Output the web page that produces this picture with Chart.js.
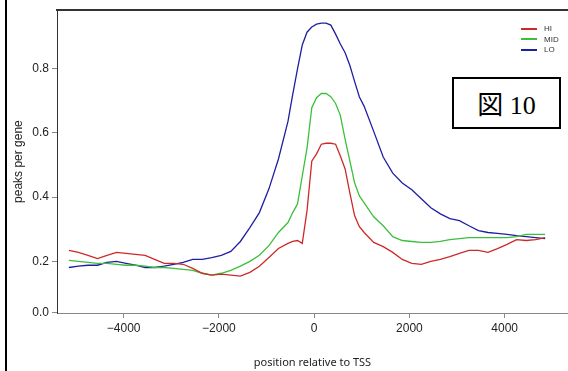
<!DOCTYPE html>
<html>
<head>
<meta charset="utf-8">
<script src="https://cdn.jsdelivr.net/npm/chart.js@4/dist/chart.umd.min.js"></script>
<style>
  body { margin: 0; background: #fff; }
  #wrap { position: relative; width: 568px; height: 371px; overflow: hidden; }
  #chart { position: absolute; left: 0; top: 0; }
  #leftbar { position: absolute; left: 5px; top: 0; width: 2px; height: 371px; background: #000; }
  #legend { position: absolute; left: 521px; top: 24px; font: 8px "Liberation Sans", Arial, sans-serif; color: #333; }
  #legend div { height: 10.5px; line-height: 10.5px; white-space: nowrap; }
  #legend span.ln { display: inline-block; width: 16px; height: 0; border-top: 2px solid; vertical-align: middle; margin-right: 7px; }
  #fig { position: absolute; left: 452px; top: 77px; width: 105px; height: 48px; border: 2px solid #000; background: #fff;
         text-align: center; line-height: 48px; font-size: 26px; font-family: "Liberation Serif", "Noto Sans CJK JP", serif; color: #000; }
</style>
</head>
<body>
<div id="wrap">
  <canvas id="chart" width="568" height="371"></canvas>
  <div id="leftbar"></div>
  <div id="legend"></div>
  <div id="fig"><span style="font-family:'Noto Sans CJK JP'">図</span> 10</div>
</div>
<script>
// positions relative to TSS (bp), finer around the TSS
const positions = [-5150, -4950, -4750, -4550, -4350, -4150, -3950, -3750, -3550, -3350,
  -3150, -2950, -2750, -2550, -2350, -2150, -1950, -1750, -1550, -1350,
  -1150, -950, -750, -550, -450, -350, -250, -150, -50, 50,
  150, 250, 350, 450, 550, 650, 750, 850, 950, 1050,
  1250, 1450, 1650, 1850, 2050, 2250, 2450, 2650,
  2850, 3050, 3250, 3450, 3650, 3850, 4050, 4250, 4450, 4650, 4850];

const hiPeaks = [0.234, 0.228, 0.219, 0.209, 0.219, 0.228, 0.225, 0.222, 0.219, 0.206,
  0.194, 0.194, 0.191, 0.178, 0.163, 0.157, 0.160, 0.157, 0.154, 0.166,
  0.185, 0.212, 0.240, 0.256, 0.262, 0.265, 0.256, 0.358, 0.512, 0.535,
  0.565, 0.568, 0.568, 0.565, 0.528, 0.488, 0.413, 0.342, 0.308, 0.290,
  0.259, 0.246, 0.228, 0.206, 0.194, 0.191, 0.200, 0.206,
  0.215, 0.225, 0.234, 0.234, 0.228, 0.240, 0.253, 0.268, 0.265, 0.268, 0.274];

const midPeaks = [0.203, 0.200, 0.197, 0.194, 0.194, 0.191, 0.188, 0.188, 0.185, 0.181,
  0.181, 0.178, 0.175, 0.172, 0.163, 0.157, 0.163, 0.172, 0.185, 0.200,
  0.219, 0.249, 0.290, 0.321, 0.352, 0.379, 0.466, 0.553, 0.679, 0.710,
  0.723, 0.723, 0.713, 0.692, 0.655, 0.580, 0.512, 0.444, 0.404, 0.382,
  0.339, 0.311, 0.277, 0.265, 0.262, 0.259, 0.259, 0.262,
  0.268, 0.271, 0.274, 0.274, 0.274, 0.274, 0.274, 0.277, 0.284, 0.284, 0.284];

const loPeaks = [0.181, 0.185, 0.188, 0.188, 0.197, 0.200, 0.194, 0.188, 0.181, 0.181,
  0.185, 0.191, 0.197, 0.206, 0.206, 0.212, 0.219, 0.231, 0.262, 0.305,
  0.352, 0.426, 0.519, 0.636, 0.720, 0.800, 0.874, 0.914, 0.930, 0.939,
  0.942, 0.942, 0.936, 0.908, 0.877, 0.850, 0.810, 0.760, 0.712, 0.683,
  0.605, 0.525, 0.475, 0.444, 0.423, 0.395, 0.367, 0.348,
  0.333, 0.327, 0.311, 0.296, 0.290, 0.287, 0.284, 0.280, 0.277, 0.274, 0.271];

const seriesNames = ["HI", "MID", "LO"];
const seriesColors = ["#cc2a2a", "#3cbf3c", "#1f1fa3"];

const xTicks = [-4000, -2000, 0, 2000, 4000];
const yTicks = [0.04, 0.2, 0.4, 0.6, 0.8];
const xMin = -5400, xMax = 5330;
const yMin = 0.0392, yMax = 0.9825;

function toPoints(vals){
    let pts = [];
    for (let i = 0; i < positions.length; i++) {
        pts.push({x: positions[i], y: vals[i]});
    }
    return pts;
}

const allSeries = [hiPeaks, midPeaks, loPeaks];
let datasets = [];
for (let i = 0; i < allSeries.length; i++) {
    datasets.push({
        label: seriesNames[i],
        data: toPoints(allSeries[i]),
        borderColor: seriesColors[i],
        borderWidth: 1.3,
        pointRadius: 0,
        fill: false,
        tension: 0
    });
}

// little legend in the top right corner
let legendHtml = "";
for (let i = 0; i < seriesNames.length; i++) {
    legendHtml += '<div><span class="ln" style="border-color:' + seriesColors[i] + '"></span>' + seriesNames[i] + '</div>';
}
document.getElementById("legend").innerHTML = legendHtml;

new Chart(document.getElementById("chart"), {
    type: "line",
    data: { datasets: datasets },
    options: {
        responsive: false,
        animation: false,
        devicePixelRatio: 1,
        layout: { padding: { left: 0, right: 0, top: 8, bottom: 0 } },
        plugins: { legend: { display: false }, tooltip: { enabled: false } },
        scales: {
            x: {
                type: "linear",
                min: xMin, max: xMax,
                afterFit: function(s){ s.height = 58; },
                afterBuildTicks: function(s){ s.ticks = xTicks.map(v => ({value: v})); },
                grid: { display: true, drawOnChartArea: false, drawTicks: true, tickLength: 5, color: "#888" },
                border: { display: true, color: "#888", width: 1 },
                ticks: {
                    padding: 3,
                    color: "#222",
                    font: { family: "Liberation Sans", size: 12 },
                    maxRotation: 0,
                    callback: function(v){ return v < 0 ? "\u2212" + Math.abs(v) : String(v); }
                },
                title: {
                    display: true,
                    text: "position relative to TSS",
                    color: "#222",
                    font: { family: "Noto Sans", size: 11 },
                    padding: { top: 0, bottom: 2 }
                }
            },
            x2: {
                type: "linear",
                position: "top",
                min: xMin, max: xMax,
                afterFit: function(s){ s.height = 0; },
                grid: { display: false, drawTicks: false },
                ticks: { display: false },
                border: { display: true, color: "#333", width: 2 }
            },
            y: {
                type: "linear",
                min: yMin, max: yMax,
                afterFit: function(s){ s.width = 57; },
                afterBuildTicks: function(s){ s.ticks = yTicks.map(v => ({value: v})); },
                grid: { display: true, drawOnChartArea: false, drawTicks: true, tickLength: 5, color: "#888" },
                border: { display: true, color: "#333", width: 1 },
                ticks: {
                    padding: 3,
                    color: "#222",
                    font: { family: "Liberation Sans", size: 12 },
                    callback: function(v){ return v.toFixed(1); }
                },
                title: {
                    display: true,
                    text: "peaks per gene",
                    color: "#222",
                    font: { family: "Liberation Sans", size: 12 },
                    padding: { top: 11, bottom: 0 }
                }
            }
        }
    }
});
</script>
</body>
</html>
